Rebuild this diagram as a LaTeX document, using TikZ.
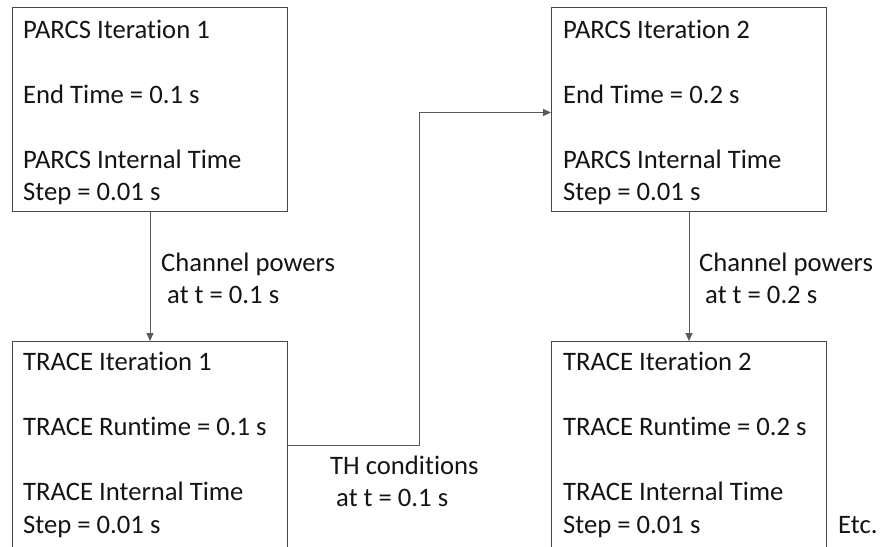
\documentclass[tikz,border=0pt]{standalone}
\usepackage{fontspec}
\setmainfont[Ligatures={NoCommon,NoRequired,NoContextual}]{Carlito}
\usetikzlibrary{arrows.meta}
\tikzset{
  x=1pt, y=-1pt,
  boxnode/.style={draw=black!72, line width=1pt, minimum width=275pt, inner sep=0pt, anchor=north west},
  txt/.style={anchor=base west, inner sep=0pt, text=black!92, font=\fontsize{26.67pt}{32.5pt}\selectfont},
  conn/.style={draw=black!65, line width=1pt},
  arr/.style={conn, -{Triangle[length=8pt,width=7pt]}}
}
\begin{document}
\begin{tikzpicture}
\useasboundingbox (0,0) rectangle (880,546);
\clip (0,0) rectangle (880,546);
% boxes
\node[boxnode, minimum height=204pt] (p1) at (12,7) {};
\node[boxnode, minimum height=207pt] (t1) at (12,341) {};
\node[boxnode, minimum height=204pt] (p2) at (551,7) {};
\node[boxnode, minimum height=207pt] (t2) at (551,341) {};
% texts PARCS 1
\node[txt] (p1a) at (23,38) {PARCS Iteration 1};
\node[txt] (p1b) at (23,103) {End Time = 0.1 s};
\node[txt] (p1c) at (23,168) {PARCS Internal Time};
\node[txt] (p1d) at (23,200.5) {Step = 0.01 s};
% TRACE 1
\node[txt] (t1a) at (23,370) {TRACE Iteration 1};
\node[txt] (t1b) at (23,435) {TRACE Runtime = 0.1 s};
\node[txt] (t1c) at (23,500.5) {TRACE Internal Time};
\node[txt] (t1d) at (23,533) {Step = 0.01 s};
% PARCS 2
\node[txt] (p2a) at (563,38) {PARCS Iteration 2};
\node[txt] (p2b) at (563,103) {End Time = 0.2 s};
\node[txt] (p2c) at (563,168) {PARCS Internal Time};
\node[txt] (p2d) at (563,200.5) {Step = 0.01 s};
% TRACE 2
\node[txt] (t2a) at (563,370) {TRACE Iteration 2};
\node[txt] (t2b) at (563,435) {TRACE Runtime = 0.2 s};
\node[txt] (t2c) at (563,500.5) {TRACE Internal Time};
\node[txt] (t2d) at (563,533) {Step = 0.01 s};
% labels
\node[txt] (l1a) at (161,271) {Channel powers};
\node[txt] (l1b) at (161,303.5) {\ at t = 0.1 s};
\node[txt] (l2a) at (699,271) {Channel powers};
\node[txt] (l2b) at (699,303.5) {\ at t = 0.2 s};
\node[txt] (l3a) at (330,474) {TH conditions};
\node[txt] (l3b) at (330,506.5) {\ at t = 0.1 s};
\node[txt] (etc) at (838,533) {Etc.};
% connectors
\draw[arr] (p1.south) -- (t1.north);
\draw[arr] (p2.south) -- (t2.north);
\coordinate (elbow) at (419,0);
\draw[arr] (t1.east) -- (t1.east -| elbow) |- ([yshift=-3pt]p2.west);
\end{tikzpicture}
\end{document}
